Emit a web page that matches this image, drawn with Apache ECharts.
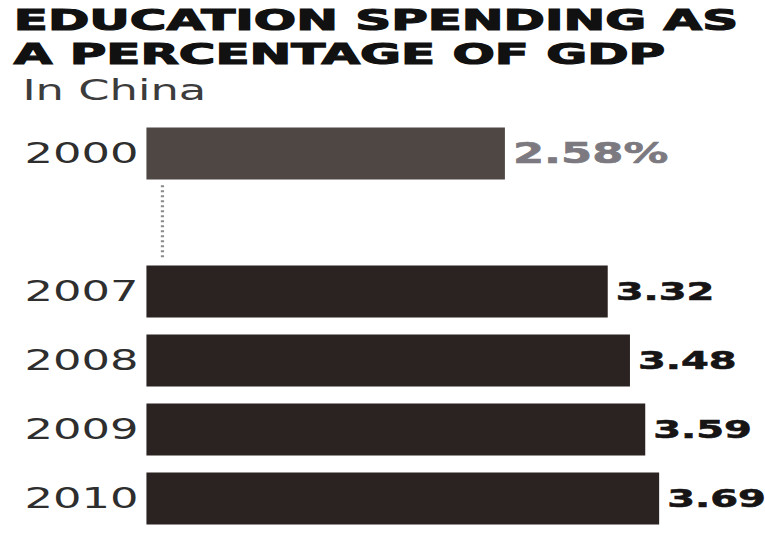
<!DOCTYPE html>
<html>
<head>
<meta charset="utf-8">
<title>Education spending as a percentage of GDP</title>
<script src="https://cdn.jsdelivr.net/npm/echarts@6.0.0/dist/echarts.min.js"></script>
<style>
  html, body { margin: 0; padding: 0; background: #ffffff; overflow: hidden; }
  /* The graphic is laid out narrow and then widened, giving the extended lettering of the print original */
  #chart {
    position: absolute; left: 0; top: 0;
    width: 478px; height: 533px;
    transform: scaleX(1.6004); transform-origin: 0 0;
  }
</style>
</head>
<body>
<div id="chart"></div>
<script>
// Headline, one entry per printed line
const headline = ['EDUCATION SPENDING AS', 'A PERCENTAGE OF GDP'];
const subhead = 'In China';
// Years shown; the empty entry leaves room for the break between 2000 and 2007
const years = ['2000', '', '2007', '2008', '2009', '2010'];
// Education spending, % of GDP
const shares = [2.58, null, 3.32, 3.48, 3.59, 3.69];
// Unit printed after a value (only the first bar carries it)
const units = ['%', '', '', '', '', ''];

const FONT = '"DejaVu Sans", sans-serif';
const gapIndex = years.indexOf('');

const barData = shares.map(function (v, i) {
  if (v === null) return '-';
  const first = i === 0;
  return {
    value: v,
    itemStyle: { color: first ? '#4f4744' : '#2a2322' },
    label: {
      fontSize: first ? 28 : 25,
      color: first ? '#7c7a80' : '#161414',
      textBorderColor: first ? '#7c7a80' : '#161414',
      textBorderWidth: 0.6
    }
  };
});

// Heavy, slightly widened headline lines
const headlineGraphics = headline.map(function (line, i) {
  return {
    type: 'text',
    left: 8,
    top: 5 + i * 34,
    scaleX: 1.075,
    silent: true,
    style: {
      text: line,
      font: 'bold 29px "DejaVu Sans", sans-serif',
      fill: '#111111',
      stroke: '#111111',
      lineWidth: 1.2
    }
  };
});

const chart = echarts.init(document.getElementById('chart'), null, { renderer: 'svg' });

chart.setOption({
  animation: false,
  backgroundColor: '#ffffff',
  graphic: headlineGraphics,
  title: {
    text: subhead,
    left: 9,
    top: 71,
    textStyle: {
      fontFamily: FONT,
      fontWeight: 'normal',
      fontSize: 28,
      lineHeight: 28,
      color: '#3c3c3c'
    }
  },
  grid: {
    left: 91.5,
    width: 382,
    top: 119,
    height: 420,
    containLabel: false
  },
  xAxis: {
    type: 'value',
    min: 0,
    max: 4.4,
    show: false
  },
  yAxis: {
    type: 'category',
    data: years,
    inverse: true,
    axisLine: { show: false },
    axisTick: { show: false },
    splitLine: { show: false },
    axisLabel: {
      margin: 5,
      fontFamily: FONT,
      fontSize: 28,
      color: '#2e2e2e'
    }
  },
  series: [
    {
      type: 'bar',
      data: barData,
      barWidth: 52,
      label: {
        show: true,
        position: 'right',
        distance: 5,
        fontFamily: FONT,
        fontWeight: 'bold',
        formatter: function (p) {
          return p.value.toFixed(2) + units[p.dataIndex];
        }
      }
    },
    {
      // dotted connector marking the skipped years
      type: 'custom',
      silent: true,
      encode: { x: 0, y: 1 },
      data: [[0, gapIndex]],
      renderItem: function (params, api) {
        const p = api.coord([0, api.value(1)]);
        const band = api.size([0, 1])[1];
        return {
          type: 'line',
          shape: {
            x1: p[0] + 10, y1: p[1] - band * 0.54,
            x2: p[0] + 10, y2: p[1] + band * 0.54
          },
          style: { stroke: '#8a8a8a', lineWidth: 2, lineDash: [2, 3] }
        };
      }
    }
  ]
});
</script>
</body>
</html>
